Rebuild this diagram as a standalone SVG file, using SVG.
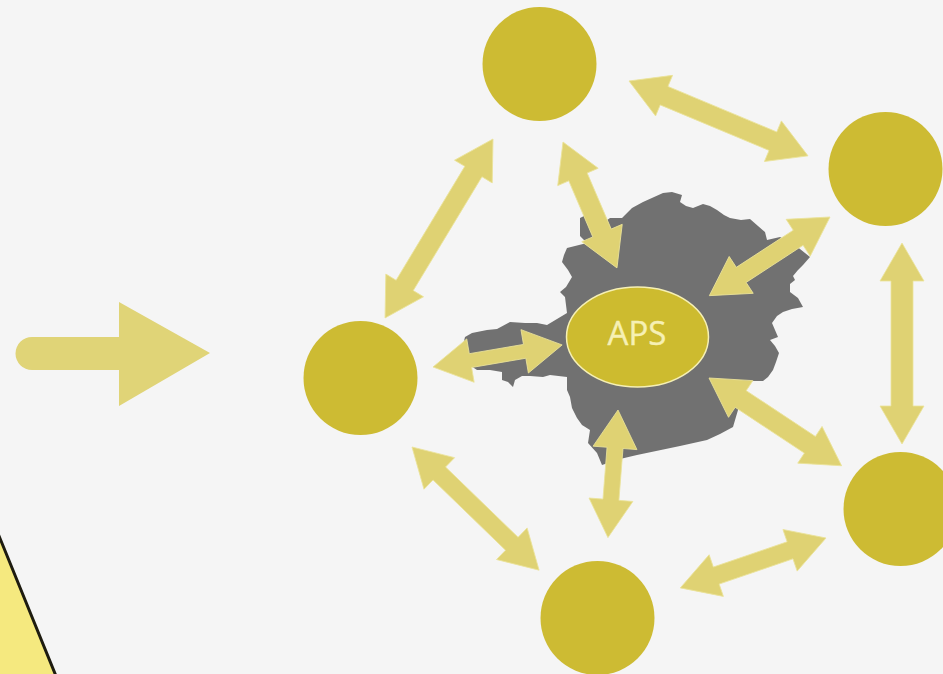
<svg xmlns="http://www.w3.org/2000/svg" width="943" height="674" viewBox="0 0 943 674">
<style>
.n{fill:#cdbb33}
.a{fill:#dfd273;stroke:#ebe39a;stroke-width:.8}
.l{fill:#e0d477}
text{font-family:"Open Sans","Noto Sans",sans-serif;font-size:33px;fill:#f6f0b4;text-anchor:middle;stroke:#f6f0b4;stroke-width:.4}
</style>
<rect width="943" height="674" fill="#f5f5f5"/>
<path d="M-3 531L56 676H-3Z" fill="#f5e97f" stroke="#1e1c10" stroke-width="3"/>
<g id="map"><path fill="#717171" d="M663 193L672 192L682 195L680 202L686 206L693 208L703 204L710 206L717 210L724 215L730 218L741 220L750 219L758 226L765 232L767 240L780 237L795 245L810 257L803 265L798 270L793 276L795 280L790 284L790 292L798 298L803 307L792 309L783 312L777 316L772 323L775 330L778 337L770 340L775 346L779 353L776 362L773 370L768 377L763 381L745 381L738 410L733 427L720 434L707 440L680 446L637 455L620 459L602 465L597 453L588 443L590 430L582 425L577 418L572 408L570 397L567 390L567 377L550 375L543 377L530 376L522 376L515 380L513 387L508 382L502 380L502 372L490 370L477 370L465 362L463 345L465 337L472 333L487 330L497 329L510 322L525 323L537 323L547 325L567 313L565 297L560 292L566 287L572 277L568 270L562 262L564 255L567 248L587 243L580 236L580 218L586 215L600 225L610 218L622 218L632 208L643 202Z"/></g>
<g id="left-arrow"><path class="l" d="M32 337H119V302L210 353L119 406V370H32A16.500 16.500 0 0 1 32 337Z"/></g>
<g id="connectors">
<path class="a" transform="translate(629 81) rotate(22.700)" d="M0 0L38-22V-10H156V-22L194 0L156 22V10H38V22Z"/>
<path class="a" transform="translate(493 139) rotate(121.100)" d="M0 0L38-22V-10H171V-22L209 0L171 22V10H38V22Z"/>
<path class="a" transform="translate(563 142) rotate(66.800)" d="M0 0L38-22V-10H99V-22L137 0L99 22V10H38V22Z"/>
<path class="a" transform="translate(830 217) rotate(146.900)" d="M0 0L38-22V-9H106V-22L144 0L106 22V9H38V22Z"/>
<path class="a" transform="translate(902 243) rotate(90)" d="M0 0L38-22V-11H163V-22L201 0L163 22V11H38V22Z"/>
<path class="a" transform="translate(709 378) rotate(33.500)" d="M0 0L38-22V-10H121V-22L159 0L121 22V10H38V22Z"/>
<path class="a" transform="translate(826 538) rotate(161.100)" d="M0 0L38-22V-9H116V-22L154 0L116 22V9H38V22Z"/>
<path class="a" transform="translate(618 410) rotate(94.500)" d="M0 0L38-22V-8H90V-22L128 0L90 22V8H38V22Z"/>
<path class="a" transform="translate(412 447) rotate(44.100)" d="M0 0L38-22V-9H139V-22L177 0L139 22V9H38V22Z"/>
<path class="a" transform="translate(433 367) rotate(-9.700)" d="M0 0L38-22V-7H93V-22L131 0L93 22V7H38V22Z"/>
</g>
<g id="node-top"><circle class="n" cx="539.500" cy="64" r="57"/></g>
<g id="node-right"><circle class="n" cx="885.500" cy="169" r="57"/></g>
<g id="node-lower-right"><circle class="n" cx="900.500" cy="509" r="57"/></g>
<g id="node-bottom"><circle class="n" cx="597.500" cy="618" r="57"/></g>
<g id="node-left"><circle class="n" cx="360.500" cy="378" r="57"/></g>
<g id="node-aps"><ellipse cx="637.500" cy="337" rx="71" ry="50" fill="#cdbb2f" stroke="#f6f0b4" stroke-width="1.500"/><text x="637" y="345">APS</text></g>
</svg>
